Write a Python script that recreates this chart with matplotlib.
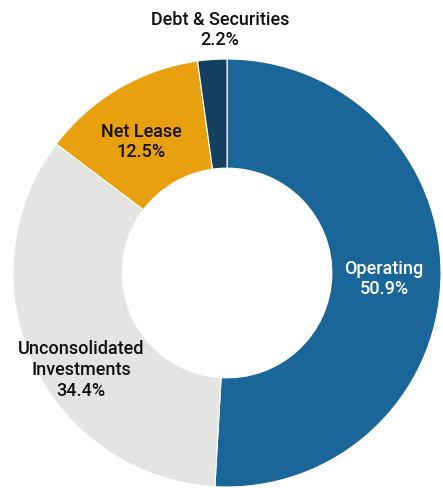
import matplotlib.pyplot as plt
import numpy as np

# data
labels = ['Operating', 'Unconsolidated\nInvestments', 'Net Lease', 'Debt & Securities']
shares = [50.9, 34.4, 12.5, 2.2]
colors = ['#1b6698', '#e4e5e2', '#e9a00f', '#153f5e']
text_colors = ['white', '#111111', '#111111', '#111111']

# label anchor points in pixels of the 443x488 figure
label_px = [(384, 279), (81, 370), (141, 142), (220, 30)]

W, H, DPI = 443, 488, 100
cx, cy, R = 227, 273, 214

fig = plt.figure(figsize=(W / DPI, H / DPI), dpi=DPI)
ax = fig.add_axes([(cx - R) / W, (H - cy - R) / H, 2 * R / W, 2 * R / H])

ax.pie(shares, colors=colors, startangle=90, counterclock=False,
       radius=1, wedgeprops=dict(width=0.51, edgecolor='white', linewidth=0.8))
ax.set_xlim(-1, 1)
ax.set_ylim(-1, 1)
ax.set_aspect('equal')
ax.axis('off')

for lab, val, (px, py), tc in zip(labels, shares, label_px, text_colors):
    x = (px - cx) / R
    y = (cy - py) / R
    ax.text(x, y, f'{lab}\n{val:.1f}%', ha='center', va='center',
            color=tc, fontsize=13, fontweight='medium', linespacing=1.2,
            family=['Roboto', 'DejaVu Sans'],
            clip_on=False)

fig.savefig('out.png', dpi=DPI)
